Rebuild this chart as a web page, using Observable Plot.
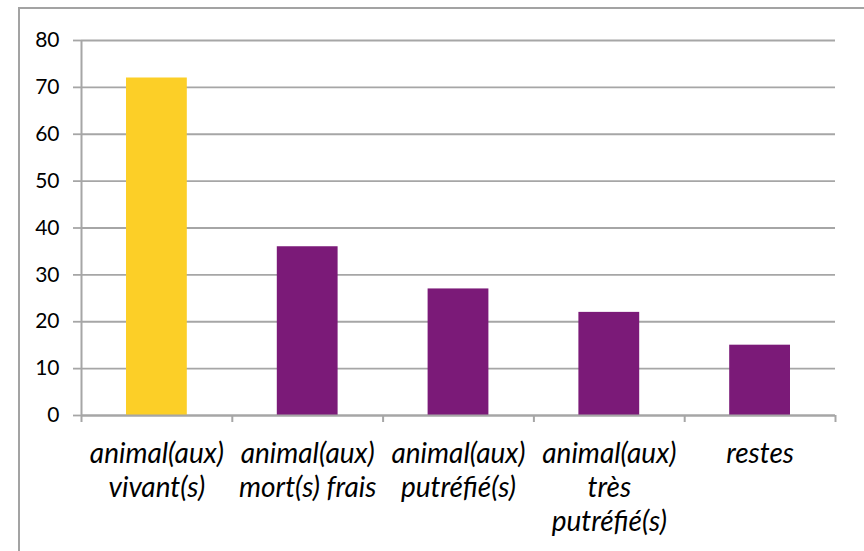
<!DOCTYPE html>
<html>
<head>
<meta charset="utf-8">
<script src="https://cdn.jsdelivr.net/npm/d3@7"></script>
<script src="https://cdn.jsdelivr.net/npm/@observablehq/plot@0.6"></script>
<style>
  html, body { margin: 0; padding: 0; background: #fff; overflow: hidden; }
  #wrap { position: relative; width: 864px; height: 551px; }
  #border { position: absolute; left: 18px; top: 7px; width: 900px; height: 600px;
            border: 2px solid #a3a3a3; box-sizing: border-box; pointer-events: none; }
</style>
</head>
<body>
<div id="wrap"><div id="border"></div></div>
<script>
const categories = [
  "animal(aux)\nvivant(s)",
  "animal(aux)\nmort(s) frais",
  "animal(aux)\nputréfié(s)",
  "animal(aux)\ntrès\nputréfié(s)",
  "restes"
];
const values = [72, 36, 27, 22, 15];
const barColors = ["#FCCF27", "#7B1A78", "#7B1A78", "#7B1A78", "#7B1A78"];
const yTicks = [0, 10, 20, 30, 40, 50, 60, 70, 80];

const data = categories.map((c, i) => ({ i, label: c, value: values[i], color: barColors[i] }));
const boundaries = d3.range(categories.length + 1);

const chart = Plot.plot({
  width: 864,
  height: 551,
  marginLeft: 81,
  marginRight: 29,
  marginTop: 40,
  marginBottom: 136,
  style: { background: "transparent", fontFamily: "Lato, sans-serif", color: "#000" },
  x: { domain: [0, categories.length], axis: null },
  y: { domain: [0, 80], axis: null },
  marks: [
    Plot.ruleY(yTicks, { stroke: "#a6a6a6", strokeWidth: 1.8 }),
    Plot.axisY({ ticks: yTicks, tickSize: 8, stroke: "#a6a6a6", strokeWidth: 1.8, strokeOpacity: 1,
                 tickPadding: 14, fontSize: 21, fill: "#000", label: null }),
    Plot.ruleX([0], { stroke: "#a6a6a6", strokeWidth: 2 }),
    Plot.rectY(data, { x1: "i", x2: d => d.i + 1, y: "value", fill: "color", insetLeft: 45, insetRight: 45,
                       style: "filter: drop-shadow(1px 1px 2px rgba(0,0,0,0.25))" }),
    Plot.axisX({ ticks: boundaries, tickSize: 7, tickFormat: () => "", stroke: "#a6a6a6", strokeWidth: 2,
                 strokeOpacity: 1, label: null }),
    Plot.ruleY([0], { stroke: "#a6a6a6", strokeWidth: 2 }),
    Plot.text(data, { x: d => d.i + 0.5, y: 0, text: "label", lineAnchor: "top", dy: 24,
                      fontSize: 28, fontStyle: "italic", lineHeight: 1.2, fill: "#000" })
  ]
});
document.getElementById("wrap").prepend(chart);
</script>
</body>
</html>
